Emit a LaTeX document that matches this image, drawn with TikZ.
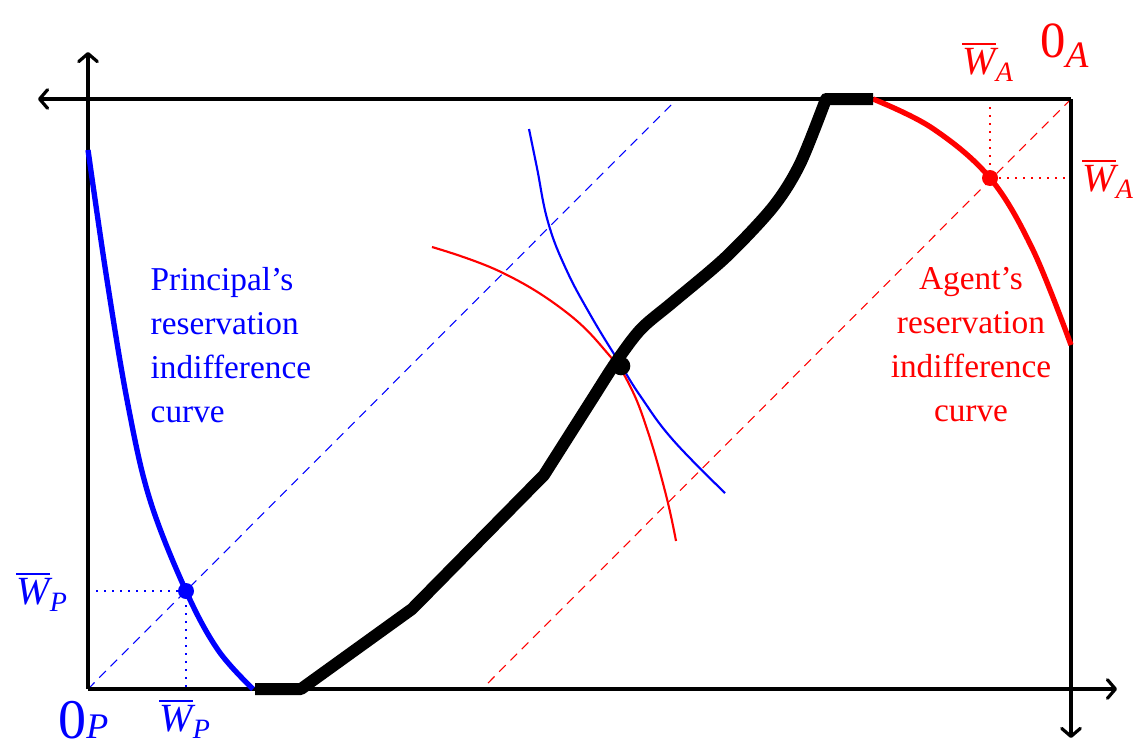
\documentclass[tikz,border=0pt]{standalone}
\usepackage{amsmath}
\usepackage{fontspec}
\usetikzlibrary{arrows.meta}
\setmainfont{Liberation Serif}
\newcommand{\Wb}[1]{$\overline{\text{\itshape W}}_{\text{\itshape #1}}$}
\begin{document}
\begin{tikzpicture}[x=0.75pt,y=-0.75pt,
  axisline/.style={line width=2.4pt},
  axarrow/.style={line width=2.4pt,-{Straight Barb[length=6pt,width=14pt,round]}},
  thickcurve/.style={line width=4pt},
  thincurve/.style={line width=1.6pt},
  diag/.style={line width=0.8pt,dash pattern=on 7pt off 5pt},
  dots/.style={line width=1.7pt,dash pattern=on 1.7pt off 4.3pt},
  contract/.style={line width=9pt,line join=round},
  lbl/.style={font=\fontsize{25}{33}\selectfont},
  wlbl/.style={font=\fontsize{30}{33}\selectfont},
  dot/.style={circle,inner sep=0pt,minimum size=12pt}]
\useasboundingbox (0,0) rectangle (1137,749);
% frame corners
\coordinate (BL) at (88,689);
\coordinate (TR) at (1071,99);
\coordinate (TL) at (88,99);
\coordinate (BR) at (1071,689);
\coordinate (upL) at (88,52);
\coordinate (leftT) at (38,99);
\coordinate (rightB) at (1117,689);
\coordinate (downR) at (1071,738);
% diagonals
\coordinate (dB) at (677,99);
\coordinate (dR) at (482,689);
\draw[diag,blue] (BL) -- (dB);
\draw[diag,red] (TR) -- (dR);
% dotted
\coordinate (pL) at (88,591);
\coordinate (pB) at (186,689);
\coordinate (aT) at (990,99);
\coordinate (aR) at (1071,178);
\node[dot,fill=blue] (P) at (186,591) {};
\node[dot,fill=red] (A) at (990,178) {};
\draw[dots,blue] (pL) -- (P.center) -- (pB);
\draw[dots,red] (aT) -- (A.center) -- (aR);
% axes
\draw[axisline] (TL) -- (TR);
\draw[axisline] (BL) -- (BR);
\draw[axisline] (BL) -- (TL);
\draw[axisline] (BR) -- (TR);
\draw[axarrow] (TL) -- (upL);
\draw[axarrow] (TL) -- (leftT);
\draw[axarrow] (BR) -- (rightB);
\draw[axarrow] (TR) -- (downR);
% thin indifference curves
\draw[thincurve,blue] plot[smooth,tension=0.7] coordinates {(529,129) (537,168) (548,222) (566,269) (591,316) (619,362) (641,397) (673,440) (725,493)};
\draw[thincurve,red] plot[smooth,tension=0.7] coordinates {(432,247) (501,272) (566,312) (609,355) (630,386) (648,432) (666,495) (676,541)};
% thick reservation curves
\draw[thickcurve,blue] plot[smooth,tension=0.6] coordinates {(88,150) (107,280) (128,405) (150,500) (186,591) (218,650) (253,689)};
\draw[thickcurve,red] plot[smooth,tension=0.6] coordinates {(873,99) (932,128) (990,178) (1033,250) (1071,345)};
% contract curve
\draw[contract] (255,689) -- (301,689) -- (412,609) -- (544,475) -- plot[smooth,tension=0.5] coordinates {(544,475) (591,401) (616,362) (641,329) (673,302) (726,257) (773,207) (800,164) (826,99)} -- (873,99);
\node[dot,fill=black,minimum size=14pt] (E) at (621,366) {};
% labels
\node[lbl,blue,align=left,anchor=north west] (pl) at (146,263) {Principal's\\reservation\\indifference\\curve};
\node[lbl,red,align=center,anchor=north] (al) at (971,263) {Agent's\\reservation\\indifference\\curve};
\node[wlbl,blue] (wpl) at (42,592) {\Wb{P}};
\node[wlbl,blue] (wpb) at (185,719) {\Wb{P}};
\node[wlbl,red] (wat) at (988,62) {\Wb{A}};
\node[wlbl,red] (war) at (1108,179) {\Wb{A}};
\node[blue,anchor=base west,inner sep=0pt] (op) at (58,738) {\fontsize{42}{42}\selectfont 0\fontsize{27}{27}\selectfont\itshape P};
\node[red,anchor=base west,inner sep=0pt] (oa) at (1040,58) {\fontsize{38}{38}\selectfont 0\raisebox{-7.5pt}{\fontsize{28}{28}\selectfont\itshape A}};
\end{tikzpicture}
\end{document}
